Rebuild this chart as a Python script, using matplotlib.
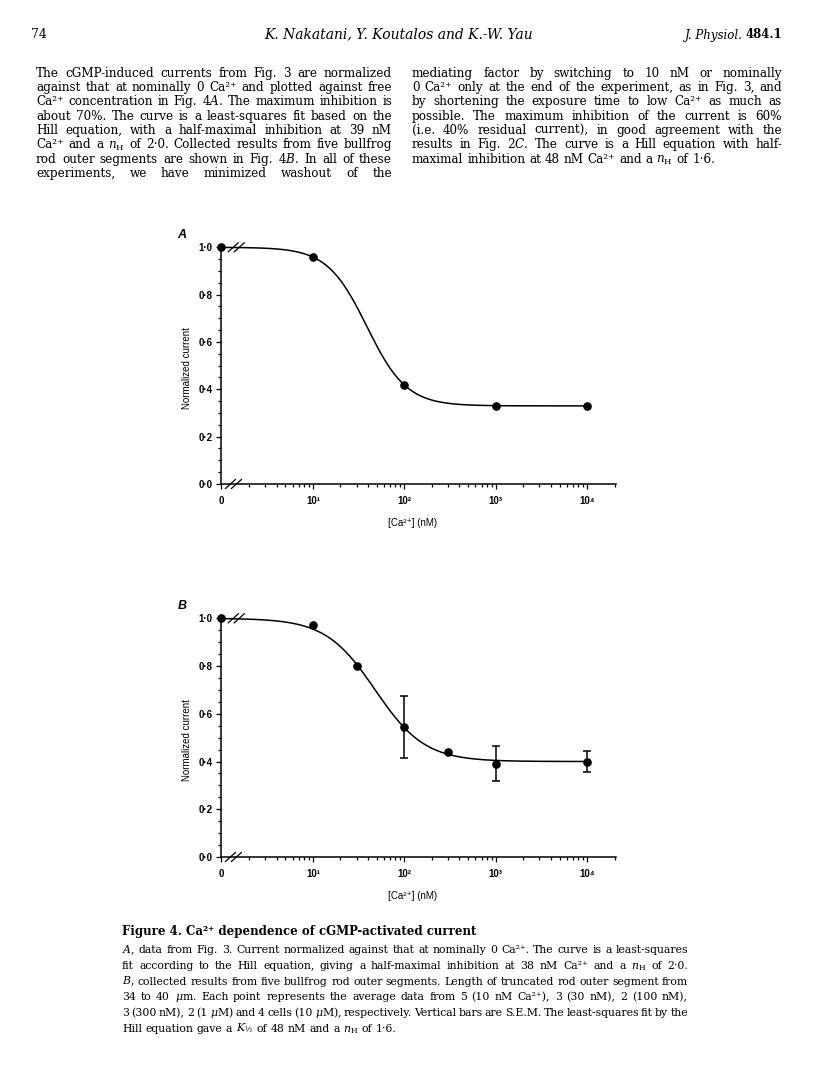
import numpy as np
import matplotlib.pyplot as plt
from matplotlib.lines import Line2D
from matplotlib.ticker import FixedLocator, NullFormatter

plt.rcParams['mathtext.fontset'] = 'dejavuserif'

# ---- values ----
ZERO_AT = 1.0          # "nominally 0 Ca" is drawn at the axis break, at x = 1

conc_a = [0, 10, 100, 1000, 10000]
curr_a = [1.00, 0.96, 0.42, 0.33, 0.33]
hill_a = {'k_half': 39, 'n_h': 2.0, 'floor': 0.33}

conc_b = [0, 10, 30, 100, 300, 1000, 10000]
curr_b = [1.00, 0.97, 0.80, 0.545, 0.44, 0.39, 0.40]
sem_b = [0, 0, 0, 0.13, 0, 0.073, 0.042]
hill_b = {'k_half': 48, 'n_h': 1.6, 'floor': 0.40}

x_ticks = [0, 10, 100, 1000, 10000]
x_tick_labels = ['0', '10¹', '10²', '10³', '10⁴']
y_ticks = [0.0, 0.2, 0.4, 0.6, 0.8, 1.0]
y_tick_labels = ['0·0', '0·2', '0·4', '0·6', '0·8', '1·0']

header_left = '74'
header_mid = 'K. Nakatani, Y. Koutalos and K.-W. Yau'

col_left = [
    'The cGMP-induced currents from Fig. 3 are normalized',
    'against that at nominally 0 Ca²⁺ and plotted against free',
    'Ca²⁺ concentration in Fig. 4$\\mathit{A}$. The maximum inhibition is',
    'about 70%. The curve is a least-squares fit based on the',
    'Hill equation, with a half-maximal inhibition at 39 nM',
    'Ca²⁺ and a $n_{\\mathrm{H}}$ of 2·0. Collected results from five bullfrog',
    'rod outer segments are shown in Fig. 4$\\mathit{B}$. In all of these',
    'experiments, we have minimized washout of the',
]
col_right = [
    'mediating factor by switching to 10 nM or nominally',
    '0 Ca²⁺ only at the end of the experiment, as in Fig. 3, and',
    'by shortening the exposure time to low Ca²⁺ as much as',
    'possible. The maximum inhibition of the current is 60%',
    '(i.e. 40% residual current), in good agreement with the',
    'results in Fig. 2$\\mathit{C}$. The curve is a Hill equation with half-',
    'maximal inhibition at 48 nM Ca²⁺ and a $n_{\\mathrm{H}}$ of 1·6.',
]
caption_title = 'Figure 4. Ca²⁺ dependence of cGMP-activated current'
caption = [
    '$\\mathit{A}$, data from Fig. 3. Current normalized against that at nominally 0 Ca²⁺. The curve is a least-squares',
    'fit according to the Hill equation, giving a half-maximal inhibition at 38 nM Ca²⁺ and a $n_{\\mathrm{H}}$ of 2·0.',
    '$\\mathit{B}$, collected results from five bullfrog rod outer segments. Length of truncated rod outer segment from',
    '34 to 40 $\\mu$m. Each point represents the average data from 5 (10 nM Ca²⁺), 3 (30 nM), 2 (100 nM),',
    '3 (300 nM), 2 (1 $\\mu$M) and 4 cells (10 $\\mu$M), respectively. Vertical bars are S.E.M. The least-squares fit by the',
    'Hill equation gave a $K_{½}$ of 48 nM and a $n_{\\mathrm{H}}$ of 1·6.',
]

W, H = 816, 1091
fig = plt.figure(figsize=(W / 100, H / 100), dpi=100)
renderer = fig.canvas.get_renderer()
serif = ['DejaVu Serif', 'DejaVu Sans']
sans = ['Liberation Sans', 'DejaVu Sans']
SPACE = 0.318 * 100 / 72      # width of a space per point of font size, px


def put(x, y, s, **kw):
    # x, y in pixels from the top-left corner
    return fig.text(x / W, 1 - y / H, s, **kw)


def words_width(line, size):
    total = 0
    for w in line.split(' '):
        t = put(0, 0, w, fontsize=size, family=serif)
        total += t.get_window_extent(renderer).width
        t.remove()
    return total


def fit_size(lines, width, tight=1.0):
    # size at which the widest line just fills the column, spaces squeezed by `tight`
    need = [words_width(s, 10) + (len(s.split(' ')) - 1) * SPACE * 10 * tight for s in lines]
    return 10 * width / max(need) * 0.99


def justify(line, x0, x1, y, size, last=False, **kw):
    words = line.split(' ')
    items = [put(0, y, w, fontsize=size, va='baseline', family=serif, **kw) for w in words]
    widths = [t.get_window_extent(renderer).width for t in items]
    gap = size * SPACE
    if not last and len(words) > 1:
        gap = (x1 - x0 - sum(widths)) / (len(words) - 1)
    x = x0
    for t, w in zip(items, widths):
        t.set_x(x / W)
        x += w + gap


L0, L1, R0, R1 = 36, 392, 412, 782
C0, C1 = 122, 688

# header
put(31, 38.5, header_left, fontsize=9, family=serif, va='baseline')
put(399, 38.5, header_mid, fontsize=10, family=serif, style='italic', ha='center', va='baseline')
t = put(R1, 38.5, '484.1', fontsize=8.5, family=serif, weight='bold', ha='right', va='baseline')
wj = t.get_window_extent(renderer).width
put(R1 - wj - 3, 38.5, 'J. Physiol.', fontsize=8.5, family=serif, style='italic', ha='right', va='baseline')

# body text, two justified columns
body_size = min(fit_size(col_left, L1 - L0), fit_size(col_right, R1 - R0))
for i, line in enumerate(col_left):
    justify(line, L0, L1, 76.7 + 14.35 * i, body_size)
for i, line in enumerate(col_right):
    justify(line, R0, R1, 76.7 + 14.35 * i, body_size, last=(i == len(col_right) - 1))

# caption
cap_size = fit_size(caption, C1 - C0, tight=0.55)
put(C0, 935, caption_title, fontsize=cap_size * 1.08, family=serif, weight='bold', va='baseline')
for i, line in enumerate(caption):
    justify(line, C0, C1, 953.3 + 15.7 * i, cap_size, last=(i == len(caption) - 1))


def xpos(values):
    return [c if c > 0 else ZERO_AT for c in values]


def hill(x, p):
    return p['floor'] + (1 - p['floor']) / (1 + (x / p['k_half']) ** p['n_h'])


def slashes(ax, xval, yval):
    cx, cy = ax.transData.transform((xval, yval))
    for dx in (-3.0, 3.0):
        fig.add_artist(Line2D([(cx + dx - 5) / 100, (cx + dx + 5) / 100],
                              [(cy - 4.5) / 100, (cy + 4.5) / 100],
                              transform=fig.dpi_scale_trans, color='k', lw=0.9))


def panel(top, bottom, letter, conc, curr, fit, sem=None):
    left, right = 221.5, 616
    ax = fig.add_axes([left / W, 1 - bottom / H, (right - left) / W, (bottom - top) / H])
    ax.set_xscale('log')
    ax.set_xlim(1, 2.07e4)
    ax.set_ylim(0, 1.0)
    for s in ('top', 'right'):
        ax.spines[s].set_visible(False)
    for s in ('left', 'bottom'):
        ax.spines[s].set_linewidth(1.1)

    xs = np.logspace(0, 4, 400)
    ax.plot(xs, hill(xs, fit), color='k', lw=1.1, clip_on=False)
    if sem is not None:
        pick = [i for i, e in enumerate(sem) if e > 0]
        ax.errorbar([xpos(conc)[i] for i in pick], [curr[i] for i in pick],
                    yerr=[sem[i] for i in pick], fmt='none', ecolor='k',
                    elinewidth=1.1, capsize=2.6, capthick=1.1, clip_on=False)
    ax.plot(xpos(conc), curr, 'o', color='k', ms=5.2, clip_on=False, zorder=5)

    ax.xaxis.set_major_locator(FixedLocator(xpos(x_ticks)))
    ax.set_xticklabels(x_tick_labels, family=sans, fontsize=7, weight='bold')
    minors = [m * 10 ** k for k in range(5) for m in range(2, 10) if m * 10 ** k <= 2e4]
    ax.xaxis.set_minor_locator(FixedLocator(minors))
    ax.xaxis.set_minor_formatter(NullFormatter())
    ax.yaxis.set_major_locator(FixedLocator(y_ticks))
    ax.set_yticklabels(y_tick_labels, family=sans, fontsize=7, weight='bold')
    ax.yaxis.set_minor_locator(FixedLocator(np.arange(0, 1.001, 0.05)))
    ax.tick_params(which='major', direction='out', length=3.8, width=0.9)
    ax.tick_params(axis='x', which='major', pad=5)
    ax.tick_params(axis='y', which='major', pad=2.5)
    ax.tick_params(which='minor', direction='out', length=2.2, width=0.9)

    ax.text(-0.088, 0.49, 'Normalized current', transform=ax.transAxes, rotation=90,
            ha='center', va='center', family=sans, fontsize=7)
    ax.text(0.485, -0.165, '[Ca²⁺] (nM)', transform=ax.transAxes,
            ha='center', va='center', family=sans, fontsize=7)
    put(182, top - 12, letter, fontsize=9, family=sans, style='italic', weight='bold',
        ha='center', va='center')

    slashes(ax, 1.45, 1.0)
    slashes(ax, 1.35, 0.0)
    return ax


panel(247.3, 484, 'A', conc_a, curr_a, hill_a)
panel(618.3, 857, 'B', conc_b, curr_b, hill_b, sem_b)

fig.savefig('out.png', dpi=100)
